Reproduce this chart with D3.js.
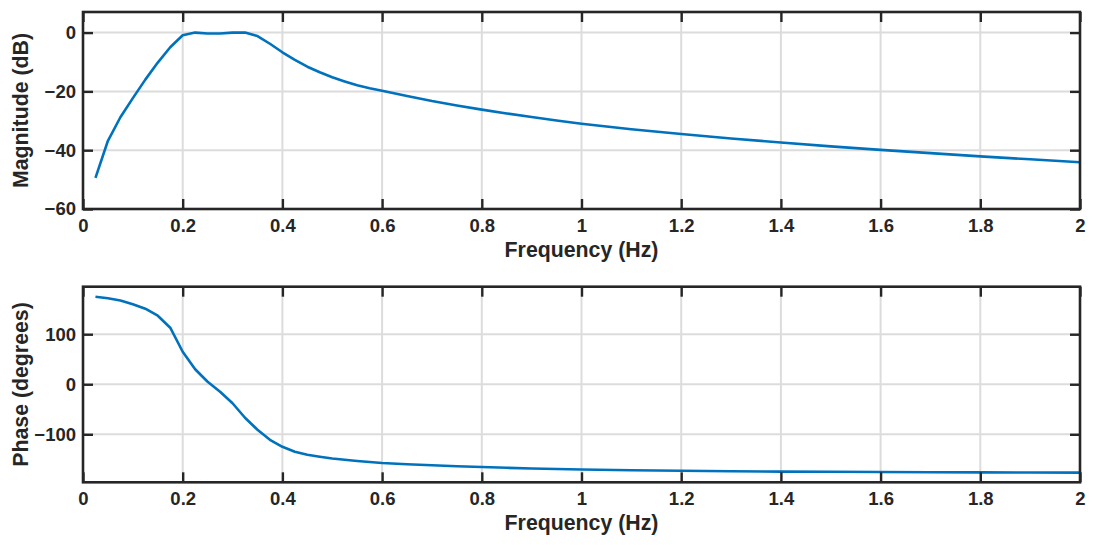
<!DOCTYPE html>
<html>
<head>
<meta charset="utf-8">
<script src="https://cdn.jsdelivr.net/npm/d3@7"></script>
<style>
html,body{margin:0;padding:0;background:#fff;}
svg text{font-family:"Liberation Sans",Arial,sans-serif;font-weight:bold;fill:#262626;}
</style>
</head>
<body>
<svg id="chart" width="1094" height="545"></svg>
<script>
// ---- data ----
const magFreq = [0.025,0.05,0.075,0.1,0.125,0.15,0.175,0.2,0.225,0.25,0.275,0.3,0.325,0.35,0.375,0.4,0.425,0.45,0.475,0.5,0.525,0.55,0.575,0.6,0.65,0.7,0.75,0.8,0.85,0.9,0.95,1.0,1.1,1.2,1.3,1.4,1.5,1.6,1.7,1.8,1.9,2.0];
const magDb = [-49.4,-36.8,-28.8,-22.3,-16.0,-10.2,-5.0,-0.9,0.0,-0.3,-0.3,0.0,0.0,-1.2,-3.8,-6.7,-9.3,-11.6,-13.5,-15.2,-16.6,-17.9,-18.9,-19.8,-21.6,-23.3,-24.8,-26.2,-27.5,-28.7,-29.9,-31.0,-32.9,-34.5,-36.0,-37.4,-38.7,-39.9,-41.0,-42.1,-43.1,-44.1];
const phaseFreq = [0.025,0.05,0.075,0.1,0.125,0.15,0.175,0.2,0.225,0.25,0.275,0.3,0.325,0.35,0.375,0.4,0.425,0.45,0.475,0.5,0.525,0.55,0.575,0.6,0.65,0.7,0.75,0.8,0.85,0.9,0.95,1.0,1.1,1.2,1.3,1.4,1.5,1.6,1.7,1.8,1.9,2.0];
const phaseDeg = [175,172,167.5,160,151,137,113,65,30,5,-15,-38,-67,-91,-111,-125,-135,-141,-145,-148.5,-151,-153.5,-155.5,-157.5,-160,-162,-164,-165.5,-167,-168.5,-169.5,-170.5,-172,-173,-174,-174.6,-175,-175.4,-175.8,-176.1,-176.4,-176.6];
const xTicks = [0,0.2,0.4,0.6,0.8,1,1.2,1.4,1.6,1.8,2];
const magTicks = [-60,-40,-20,0];
const phaseTicks = [-100,0,100];
const xLabel = "Frequency (Hz)";
const magLabel = "Magnitude (dB)";
const phaseLabel = "Phase (degrees)";

const svg = d3.select("#chart");
const left = 83, right = 1080;
const panels = [
  {top:12, bottom:209, domain:[-60,7], xs:magFreq, ys:magDb, ticks:magTicks, label:magLabel},
  {top:286.7, bottom:482.3, domain:[-196,195], xs:phaseFreq, ys:phaseDeg, ticks:phaseTicks, label:phaseLabel}
];
const x = d3.scaleLinear().domain([0,2]).range([left,right]);
const tickLen = 10;
const fmtX = d => d3.format("")(d);

panels.forEach(p => {
  const y = d3.scaleLinear().domain(p.domain).range([p.bottom,p.top]);
  const g = svg.append("g");
  // grid
  g.append("g").selectAll("line.vg").data(xTicks.filter(t=>t>0 && t<2)).join("line")
    .attr("x1",d=>x(d)).attr("x2",d=>x(d)).attr("y1",p.top).attr("y2",p.bottom)
    .attr("stroke","#dcdcdc").attr("stroke-width",2);
  g.append("g").selectAll("line.hg").data(p.ticks.filter(t=>y(t)>p.top+1 && y(t)<p.bottom-1)).join("line")
    .attr("x1",left).attr("x2",right).attr("y1",d=>y(d)).attr("y2",d=>y(d))
    .attr("stroke","#dcdcdc").attr("stroke-width",2);
  // line
  const line = d3.line().x((d,i)=>x(p.xs[i])).y(d=>y(d)).curve(d3.curveLinear);
  g.append("path").datum(p.ys).attr("d",line).attr("fill","none")
    .attr("stroke","#0072BD").attr("stroke-width",2.6).attr("stroke-linejoin","round");
  // axes (ticks inward)
  const xb = g.append("g").attr("transform",`translate(0,${p.bottom})`)
    .call(d3.axisBottom(x).tickValues(xTicks).tickFormat(fmtX).tickSize(-tickLen).tickPadding(18));
  const xt = g.append("g").attr("transform",`translate(0,${p.top})`)
    .call(d3.axisTop(x).tickValues(xTicks).tickFormat("").tickSize(-tickLen));
  const yl = g.append("g").attr("transform",`translate(${left},0)`)
    .call(d3.axisLeft(y).tickValues(p.ticks).tickSize(-tickLen).tickPadding(18));
  const yr = g.append("g").attr("transform",`translate(${right},0)`)
    .call(d3.axisRight(y).tickValues(p.ticks).tickFormat("").tickSize(-tickLen));
  [xb,xt,yl,yr].forEach(a=>{
    a.select(".domain").remove();
    a.selectAll(".tick line").attr("stroke","#262626").attr("stroke-width",2.4);
    a.selectAll(".tick text").attr("font-size",18.5).attr("fill","#262626")
      .style("font-family","'Liberation Sans',Arial,sans-serif").style("font-weight","bold");
  });
  xb.selectAll(".tick text").attr("dy","0.71em").attr("y",10);
  yl.selectAll(".tick text").attr("x",-7);
  // box
  g.append("rect").attr("x",left).attr("y",p.top).attr("width",right-left).attr("height",p.bottom-p.top)
    .attr("fill","none").attr("stroke","#262626").attr("stroke-width",2.6);
  // labels
  g.append("text").attr("x",(left+right)/2).attr("y",p.bottom+48).attr("text-anchor","middle")
    .attr("font-size",21.3).text(xLabel);
  g.append("text").attr("transform",`translate(28,${(p.top+p.bottom)/2}) rotate(-90)`)
    .attr("text-anchor","middle").attr("font-size",21.3).text(p.label);
});
</script>
</body>
</html>
